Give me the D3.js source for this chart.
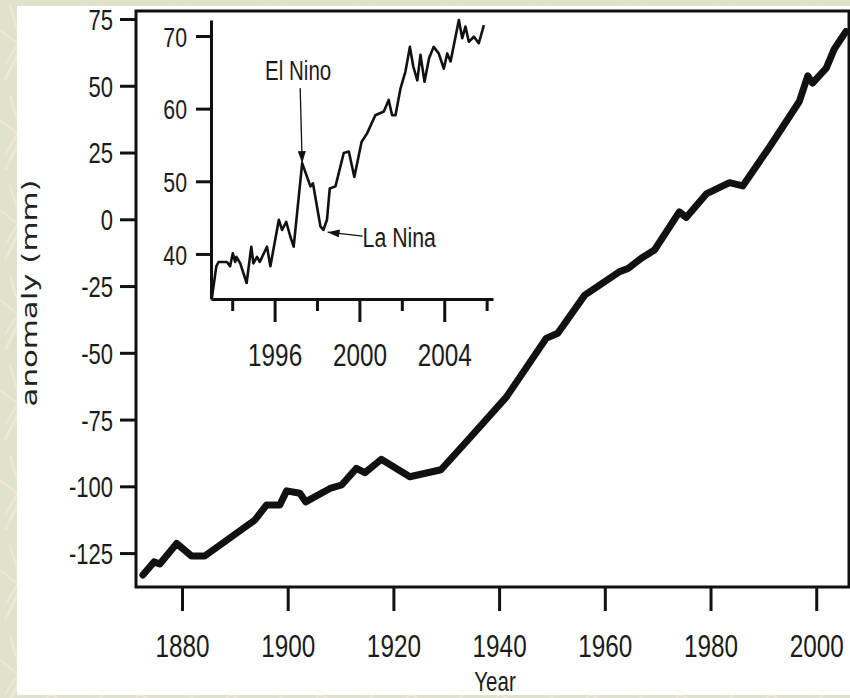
<!DOCTYPE html>
<html>
<head>
<meta charset="utf-8">
<script src="https://cdn.jsdelivr.net/npm/d3@7"></script>
<style>
  html, body { margin: 0; padding: 0; background: #e3e2cc; }
  svg { display: block; }
  text { fill: #1b1b1b; font-family: "Liberation Sans", Arial, sans-serif; }
</style>
</head>
<body>
<div id="chart"></div>
<script>
// main series: global mean sea level anomaly (mm)
var mainYears = [1872.6, 1874.7, 1875.8, 1879.0, 1881.8, 1884.3, 1893.8, 1896.0, 1898.5, 1899.8,
  1902.3, 1903.4, 1908.0, 1910.2, 1913.0, 1914.6, 1917.7, 1923.1, 1929.0, 1934.4,
  1941.4, 1948.9, 1951.1, 1956.2, 1962.8, 1964.4, 1966.9, 1969.4, 1974.1, 1975.4,
  1979.2, 1983.6, 1986.1, 1991.2, 1996.8, 1998.4, 1999.3, 2001.9, 2003.4, 2005.6];
var mainValues = [-133.2, -128.3, -129.1, -121.4, -126.1, -126.1, -112.6, -107.0, -107.0, -101.7,
  -102.6, -105.8, -100.8, -99.5, -93.3, -94.9, -89.9, -96.4, -93.8, -82.0,
  -66.5, -44.6, -42.7, -28.4, -19.6, -18.4, -14.6, -11.5, 2.8, 0.7,
  9.5, 13.7, 12.5, 27.2, 44.1, 53.7, 51.0, 56.6, 63.7, 70.3];
var mainXTicks = [1880, 1900, 1920, 1940, 1960, 1980, 2000];
var mainYTicks = [-125, -100, -75, -50, -25, 0, 25, 50, 75];

// inset series: satellite altimetry (mm)
var insetYears = [1993.04, 1993.25, 1993.36, 1993.75, 1993.9, 1994.03, 1994.14, 1994.2, 1994.38, 1994.68,
  1994.9, 1995.0, 1995.17, 1995.3, 1995.64, 1995.8, 1996.2, 1996.35, 1996.55, 1996.74,
  1996.9, 1997.3, 1997.69, 1997.81, 1998.16, 1998.3, 1998.47, 1998.6, 1998.87, 1999.26,
  1999.5, 1999.76, 2000.1, 2000.36, 2000.75, 2001.15, 2001.38, 2001.54, 2001.7, 2001.94,
  2002.17, 2002.38, 2002.54, 2002.73, 2002.88, 2003.07, 2003.28, 2003.5, 2003.74, 2003.98,
  2004.14, 2004.3, 2004.69, 2004.85, 2005.0, 2005.16, 2005.4, 2005.63, 2005.87];
var insetValues = [33.9, 38.3, 38.9, 38.9, 38.3, 40.1, 38.9, 39.6, 38.7, 36.0,
  41.0, 38.7, 39.6, 38.9, 41.0, 38.3, 44.7, 43.3, 44.4, 42.4,
  41.0, 52.5, 49.3, 49.7, 43.8, 43.3, 44.7, 49.0, 49.3, 53.9,
  54.1, 50.6, 55.4, 56.6, 59.1, 59.6, 61.2, 59.1, 59.1, 62.8,
  65.1, 68.5, 65.8, 63.9, 67.4, 63.7, 66.9, 68.5, 67.6, 65.5,
  67.6, 66.5, 72.2, 69.7, 71.3, 69.2, 69.9, 69.0, 71.5];
var insetXTicks = [1994, 1996, 1998, 2000, 2002, 2004, 2006];
var insetXLabels = [1996, 2000, 2004];
var insetYTicks = [40, 50, 60, 70];

// annotations
var annoLabels = ["El Nino", "La Nina"];
var annoYears = [1997.3, 1998.5];
var annoValues = [52.5, 43.0];

var W = 850, H = 698;
var SX = 0.76;   // horizontal squeeze of the labels, like the source scan
var fmt = function (d) { return String(d); };   // plain hyphen minus

var svg = d3.select("#chart").append("svg").attr("width", W).attr("height", H);

// background texture
var defs = svg.append("defs");
var pat = defs.append("pattern").attr("id", "paper")
  .attr("patternUnits", "userSpaceOnUse").attr("width", 90).attr("height", 90);
pat.append("rect").attr("width", 90).attr("height", 90).attr("fill", "#e2e1cb");
[["M5,80 L40,10", 3], ["M30,88 L70,40 L85,5", 2], ["M0,30 L25,50 L60,70", 2],
 ["M50,20 L88,60", 3], ["M10,5 L20,40 L5,65", 2]].forEach(function (p) {
  pat.append("path").attr("d", p[0]).attr("fill", "none")
    .attr("stroke", "#ecebd9").attr("stroke-width", p[1]).attr("opacity", 0.8);
});
svg.append("rect").attr("width", W).attr("height", H).attr("fill", "url(#paper)");
svg.append("rect").attr("x", 17).attr("y", 6).attr("width", W - 17).attr("height", 689).attr("fill", "#fff");

/** main chart **/
var main = { left: 136, top: 11, right: 849, bottom: 587 };
var x = d3.scaleLinear().domain([1871.3, 2006.2]).range([main.left, main.right]);
var y = d3.scaleLinear().domain([-137.7, 78]).range([main.bottom, main.top]);

var gy = svg.append("g").attr("transform", "translate(" + main.left + ",0)")
  .call(d3.axisLeft(y).tickValues(mainYTicks).tickSize(16).tickSizeOuter(0).tickFormat(fmt));
gy.select(".domain").remove();
gy.selectAll(".tick line").attr("stroke", "#111").attr("stroke-width", 3);
gy.selectAll(".tick text").attr("x", null).attr("dy", "0.36em")
  .attr("transform", "translate(-23,0) scale(" + SX + ",1)")
  .attr("text-anchor", "end").style("font-size", "29px").style("font-family", null);

var gx = svg.append("g").attr("transform", "translate(0," + main.bottom + ")")
  .call(d3.axisBottom(x).tickValues(mainXTicks).tickSize(24).tickSizeOuter(0).tickFormat(fmt));
gx.select(".domain").remove();
gx.selectAll(".tick line").attr("stroke", "#111").attr("stroke-width", 3);
gx.selectAll(".tick text").attr("y", null).attr("dy", null)
  .attr("transform", "translate(0,70) scale(" + SX + ",1)")
  .style("font-size", "32px").style("font-family", null);

svg.append("rect").attr("x", main.left).attr("y", main.top)
  .attr("width", main.right - main.left).attr("height", main.bottom - main.top)
  .attr("fill", "none").attr("stroke", "#111").attr("stroke-width", 3);

var mainLine = d3.line().x(function (d) { return x(d[0]); }).y(function (d) { return y(d[1]); });
svg.append("path").datum(d3.zip(mainYears, mainValues))
  .attr("d", mainLine).attr("fill", "none").attr("stroke", "#111")
  .attr("stroke-width", 7).attr("stroke-linejoin", "round").attr("stroke-linecap", "round");

// axis titles
svg.append("text").attr("transform", "translate(495,691) scale(" + SX + ",1)")
  .attr("text-anchor", "middle").style("font-size", "27px").text("Year");
svg.append("text").attr("transform", "translate(37,293) rotate(-90)")
  .attr("text-anchor", "middle").attr("textLength", 227).attr("lengthAdjust", "spacingAndGlyphs")
  .style("font-family", "'DejaVu Sans', Verdana, sans-serif").style("font-size", "22px")
  .style("fill", "#222").text("anomaly (mm)");

/** inset **/
var inset = { left: 211, top: 20, right: 493, bottom: 299 };
var ix = d3.scaleLinear().domain([1993.0, 2006.3]).range([inset.left, inset.right]);
var iy = d3.scaleLinear().domain([33.8, 72.2]).range([inset.bottom, inset.top]);

var iyAxis = svg.append("g").attr("transform", "translate(" + inset.left + ",0)")
  .call(d3.axisLeft(iy).tickValues(insetYTicks).tickSize(15).tickSizeOuter(0).tickFormat(fmt));
iyAxis.select(".domain").attr("stroke", "#111").attr("stroke-width", 3);
iyAxis.selectAll(".tick line").attr("stroke", "#111").attr("stroke-width", 3);
iyAxis.selectAll(".tick text").attr("x", null).attr("dy", "0.36em")
  .attr("transform", "translate(-24,0) scale(" + SX + ",1)")
  .attr("text-anchor", "end").style("font-size", "28px").style("font-family", null);

var ixAxis = svg.append("g").attr("transform", "translate(0," + inset.bottom + ")")
  .call(d3.axisBottom(ix).tickValues(insetXTicks).tickSize(23).tickSizeOuter(0)
    .tickFormat(function (d) { return insetXLabels.indexOf(d) >= 0 ? String(d) : ""; }));
ixAxis.select(".domain").attr("stroke", "#111").attr("stroke-width", 3);
ixAxis.selectAll(".tick line").attr("stroke", "#111").attr("stroke-width", 3)
  .attr("y2", function (d) { return insetXLabels.indexOf(d) >= 0 ? 23 : 12; });
ixAxis.selectAll(".tick text").attr("y", null).attr("dy", null)
  .attr("transform", "translate(0,67) scale(" + SX + ",1)")
  .style("font-size", "32px").style("font-family", null);

var insetLine = d3.line().x(function (d) { return ix(d[0]); }).y(function (d) { return iy(d[1]); });
svg.append("path").datum(d3.zip(insetYears, insetValues))
  .attr("d", insetLine).attr("fill", "none").attr("stroke", "#111")
  .attr("stroke-width", 2.6).attr("stroke-linejoin", "round");

// annotations
defs.append("marker").attr("id", "head").attr("viewBox", "0 0 12 8")
  .attr("refX", 12).attr("refY", 4).attr("markerWidth", 12).attr("markerHeight", 8)
  .attr("markerUnits", "userSpaceOnUse").attr("orient", "auto")
  .append("path").attr("d", "M0,0 L12,4 L0,8 Z").attr("fill", "#111");

var elX = ix(annoYears[0]), elY = iy(annoValues[0]);
svg.append("text").attr("transform", "translate(" + (elX - 4) + "," + (elY - 83) + ") scale(" + SX + ",1)")
  .attr("text-anchor", "middle").style("font-size", "27px").text(annoLabels[0]);
svg.append("line").attr("x1", elX - 2).attr("y1", elY - 75).attr("x2", elX).attr("y2", elY)
  .attr("stroke", "#111").attr("stroke-width", 1.3).attr("marker-end", "url(#head)");

var laX = ix(annoYears[1]), laY = iy(annoValues[1]);
svg.append("line").attr("x1", laX + 35).attr("y1", laY + 4).attr("x2", laX).attr("y2", laY)
  .attr("stroke", "#111").attr("stroke-width", 1.3).attr("marker-end", "url(#head)");
svg.append("text").attr("transform", "translate(" + (laX + 35) + "," + (laY + 15) + ") scale(" + SX + ",1)")
  .style("font-size", "28px").text(annoLabels[1]);
</script>
</body>
</html>
